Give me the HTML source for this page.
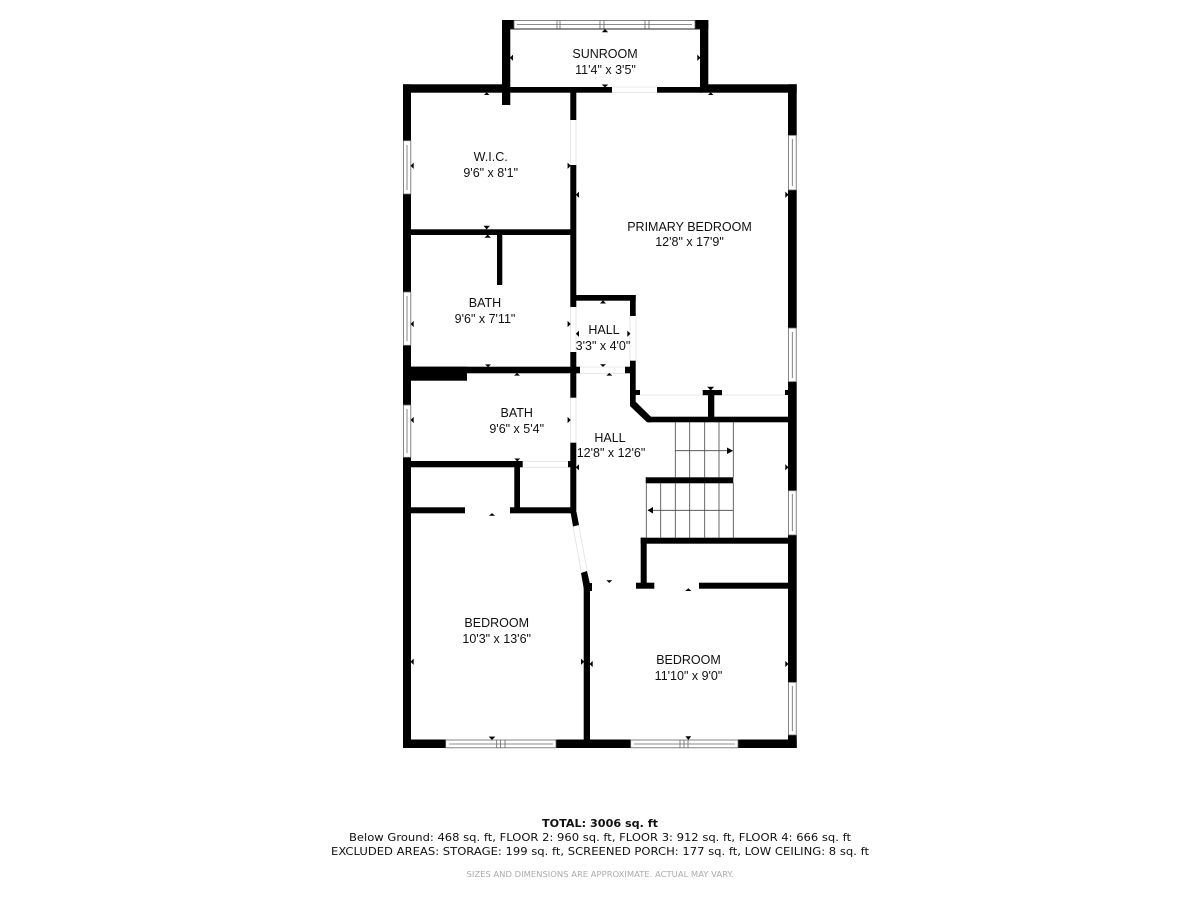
<!DOCTYPE html>
<html>
<head>
<meta charset="utf-8">
<title>Floor Plan</title>
<style>
html,body{margin:0;padding:0;background:#fff;width:1200px;height:900px;overflow:hidden}
svg{display:block;filter:blur(.3px)}
.l{font-family:"Liberation Sans",Arial,sans-serif;font-size:12.5px;fill:#111;text-anchor:middle}
.f{font-family:"DejaVu Sans",Verdana,sans-serif;font-size:10.5px;fill:#111;text-anchor:middle}
</style>
</head>
<body>
<svg width="1200" height="900" viewBox="0 0 1200 900" xmlns="http://www.w3.org/2000/svg">
<rect width="1200" height="900" fill="#fff"/>

<!-- thin door / opening lines -->
<g stroke="#e2e2e2" stroke-width="0.8" fill="none">
  <path d="M612 87H657M612 92.5H657"/>
  <path d="M570.5 120V165M576 120V165"/>
  <path d="M570.5 307V352M576 307V352"/>
  <path d="M630 316V361M636 316V361"/>
  <path d="M580 367H625M580 373.3H625"/>
  <path d="M570.5 397V443M576 397V443"/>
  <path d="M522 461.3H568M522 467.3H568"/>
  <path d="M573 526L581 571M578.5 525L587 570"/>
  <path d="M640 395H785"/>
</g>

<!-- walls -->
<g fill="#000">
  <!-- outer -->
  <rect x="403" y="84.3" width="99" height="8.4"/>
  <rect x="700" y="84.3" width="96.7" height="8.4"/>
  <rect x="502" y="87" width="110" height="5.7"/>
  <rect x="657" y="87" width="45" height="5.7"/>
  <rect x="403" y="84.3" width="8" height="56.4"/>
  <rect x="403" y="194" width="8" height="98"/>
  <rect x="403" y="345.3" width="8" height="59.7"/>
  <rect x="403" y="457.3" width="8" height="290.7"/>
  <rect x="788" y="84.3" width="8.7" height="51"/>
  <rect x="788" y="190" width="8.7" height="138"/>
  <rect x="788" y="381.7" width="8.7" height="109"/>
  <rect x="788" y="535" width="8.7" height="147.3"/>
  <rect x="788" y="735" width="8.7" height="13"/>
  <rect x="403" y="739.5" width="42.7" height="8.5"/>
  <rect x="556" y="739.5" width="74.7" height="8.5"/>
  <rect x="738" y="739.5" width="58.7" height="8.5"/>
  <!-- sunroom -->
  <rect x="502" y="20" width="8.3" height="85"/>
  <rect x="502" y="20" width="12" height="9"/>
  <rect x="700" y="20" width="8.3" height="72"/>
  <rect x="695" y="20" width="13.3" height="9"/>
  <!-- WIC / baths spine -->
  <rect x="570.3" y="92" width="6" height="28"/>
  <rect x="570.3" y="165" width="6" height="142"/>
  <rect x="570.3" y="352" width="6" height="45.7"/>
  <rect x="570.3" y="442.7" width="6" height="70.6"/>
  <rect x="411" y="229.3" width="160" height="5.7"/>
  <rect x="497" y="235" width="5.3" height="50"/>
  <!-- hall box -->
  <rect x="576" y="295" width="59.7" height="5.7"/>
  <rect x="630" y="295" width="5.7" height="21"/>
  <rect x="630" y="360.7" width="5.7" height="42.3"/>
  <rect x="625" y="366.7" width="6" height="6.6"/>
  <rect x="411" y="366.7" width="169" height="6.6"/>
  <rect x="411" y="366.7" width="56" height="14"/>
  <!-- primary lower stubs -->
  <rect x="630" y="390" width="10" height="5"/>
  <rect x="702.7" y="390" width="19.3" height="5.2"/>
  <rect x="708" y="395" width="6.3" height="23"/>
  <rect x="785" y="390" width="3.5" height="5"/>
  <polygon points="630,402 636,402 651,416.7 651,422.3 647,422.3 630,406"/>
  <rect x="648" y="416.7" width="140" height="5.6"/>
  <!-- bath 2 / closet -->
  <rect x="411" y="461" width="111.7" height="6.3"/>
  <rect x="568" y="461" width="3" height="6.3"/>
  <rect x="514.3" y="467" width="5.7" height="46"/>
  <rect x="411" y="507.3" width="54" height="6"/>
  <rect x="510" y="507.3" width="62" height="6"/>
  <!-- angled wall -->
  <polygon points="570.5,512 576.5,512 579,525 573,526.5"/>
  <polygon points="581,573 587,571 590,584 590,590 584,590"/>
  <rect x="583.7" y="583" width="6.3" height="165"/>
  <rect x="588" y="583" width="4" height="8"/>
  <!-- stairs walls -->
  <rect x="645.7" y="477.3" width="87.6" height="6"/>
  <rect x="640.7" y="537.7" width="147.5" height="6"/>
  <rect x="640.7" y="537.7" width="6" height="46"/>
  <rect x="636" y="582.7" width="18.3" height="6"/>
  <rect x="699" y="582.7" width="89.2" height="6"/>
</g>

<!-- stairs -->
<g stroke="#444" stroke-width="0.8" fill="none">
  <path d="M675.3 422V477.3M689.7 422V477.3M704.7 422V477.3M719 422V477.3M733.3 422V477.3"/>
  <path d="M646.3 483V538M660.7 483V538M675.3 483V538M689.7 483V538M704.7 483V538M719 483V538M733.3 483V538"/>
  <path d="M675.3 450.7H733.3M648 510.3H733.3"/>
</g>
<path d="M727 447.5L733 450.7L727 454ZM653 507L647.5 510.3L653 513.5Z" fill="#000"/>

<!-- windows -->
<g fill="#fff" stroke="#666" stroke-width="0.8">
  <rect x="514" y="20.4" width="181" height="8.6"/>
  <rect x="403.4" y="140.7" width="7.4" height="53.3"/>
  <rect x="403.4" y="292" width="7.4" height="53.3"/>
  <rect x="403.4" y="405" width="7.4" height="52.3"/>
  <rect x="788.4" y="135.3" width="7.8" height="54.7"/>
  <rect x="788.4" y="328" width="7.8" height="53.7"/>
  <rect x="788.4" y="490.7" width="7.8" height="44.3"/>
  <rect x="788.4" y="682.3" width="7.8" height="52.7"/>
  <rect x="445.7" y="740" width="110.3" height="7.8"/>
  <rect x="630.7" y="740" width="107.3" height="7.8"/>
</g>
<g stroke="#666" stroke-width="0.8" fill="none">
  <path d="M517 24.5H692M557 20V29M560 20V29M600 20V29M604 20V29M645 20V29M649 20V29"/>
  <path d="M407 145V190M407 296V341M407 409V453M792.3 139V186M792.3 332V378M792.3 494V531M792.3 686V731"/>
  <path d="M449 744H553M496.7 740V748M500.5 740V748M505 740V748"/>
  <path d="M634 744H735M680 740V748M684 740V748M688 740V748"/>
</g>
<path d="M510 29H700" stroke="#222" stroke-width="1" fill="none"/>

<!-- dimension arrow marks -->
<path fill="#000" stroke="#000" stroke-width="0.6" d="
M605 29.5l-2.5 2.5h5z
M486.7 92.7l-2 2h4z
M710.7 92.7l-2 2h4z
M487.7 235l-2.5 2.5h5z
M603 300.7l-2.3 2.5h4.6z
M517 373.3l-2.2 2h4.4z
M609.3 373.3l-2.2 2h4.4z
M492 513.5l-2.3 2h4.6z
M688.3 588.7l-2.3 2h4.6z

M605 87l-2.5-2.2h5z
M486.7 229l-2.5-3h5z
M710.7 390l-2.8-3h5.6z
M488 366.7l-2.2-2h4.4z
M603 366.5l-2.2-2h4.4z
M517.3 461l-2.2-2.2h4.4z
M609.3 582.5l-2.2-2h4.4z
M492 739.5l-2.6-2.6h5.2z
M688.3 739.5l-2.3-3h4.6z

M510.3 57.7l2.4-2.4v4.8z
M411 165.7l2.4-2.4v4.8z
M576.3 194.7l2.4-2.4v4.8z
M411 324l2.4-2.4v4.8z
M576.3 333.7l2.4-2.4v4.8z
M411 420l2.4-2.4v4.8z
M576.3 467.3l2.4-2.4v4.8z
M411 661.7l2.4-2.4v4.8z
M590 664l2.4-2.4v4.8z

M700 57.7l-2.4-2.4v4.8z
M570.3 165.7l-2.4-2.4v4.8z
M788 194.7l-2.4-2.4v4.8z
M570.3 324l-2.4-2.4v4.8z
M630 333.7l-2.4-2.4v4.8z
M570.3 420l-2.4-2.4v4.8z
M788 467.3l-2.4-2.4v4.8z
M583.7 661.7l-2.4-2.4v4.8z
M788 664l-2.4-2.4v4.8z
"/>

<!-- room labels -->
<text class="l" x="605" y="58">SUNROOM</text>
<text class="l" x="605.5" y="74">11'4" x 3'5"</text>
<text class="l" x="490.7" y="161">W.I.C.</text>
<text class="l" x="490.7" y="177">9'6" x 8'1"</text>
<text class="l" x="689.5" y="231">PRIMARY BEDROOM</text>
<text class="l" x="689.5" y="246">12'8" x 17'9"</text>
<text class="l" x="485" y="307">BATH</text>
<text class="l" x="485" y="323">9'6" x 7'11"</text>
<text class="l" x="604" y="334">HALL</text>
<text class="l" x="603" y="350">3'3" x 4'0"</text>
<text class="l" x="516.7" y="417">BATH</text>
<text class="l" x="516.7" y="433">9'6" x 5'4"</text>
<text class="l" x="610" y="442">HALL</text>
<text class="l" x="611" y="457">12'8" x 12'6"</text>
<text class="l" x="496.7" y="627">BEDROOM</text>
<text class="l" x="496.7" y="643">10'3" x 13'6"</text>
<text class="l" x="688.5" y="664">BEDROOM</text>
<text class="l" x="688.5" y="680">11'10" x 9'0"</text>

<!-- footer -->
<text class="f" x="600" y="827" style="font-weight:bold" textLength="116" lengthAdjust="spacingAndGlyphs">TOTAL: 3006 sq. ft</text>
<text class="f" x="600" y="841" textLength="502" lengthAdjust="spacingAndGlyphs">Below Ground: 468 sq. ft, FLOOR 2: 960 sq. ft, FLOOR 3: 912 sq. ft, FLOOR 4: 666 sq. ft</text>
<text class="f" x="600" y="855" textLength="538" lengthAdjust="spacingAndGlyphs">EXCLUDED AREAS: STORAGE: 199 sq. ft, SCREENED PORCH: 177 sq. ft, LOW CEILING: 8 sq. ft</text>
<text class="f" x="600" y="877" style="font-size:8px;fill:#aaa" textLength="267" lengthAdjust="spacingAndGlyphs">SIZES AND DIMENSIONS ARE APPROXIMATE. ACTUAL MAY VARY.</text>
</svg>
</body>
</html>
